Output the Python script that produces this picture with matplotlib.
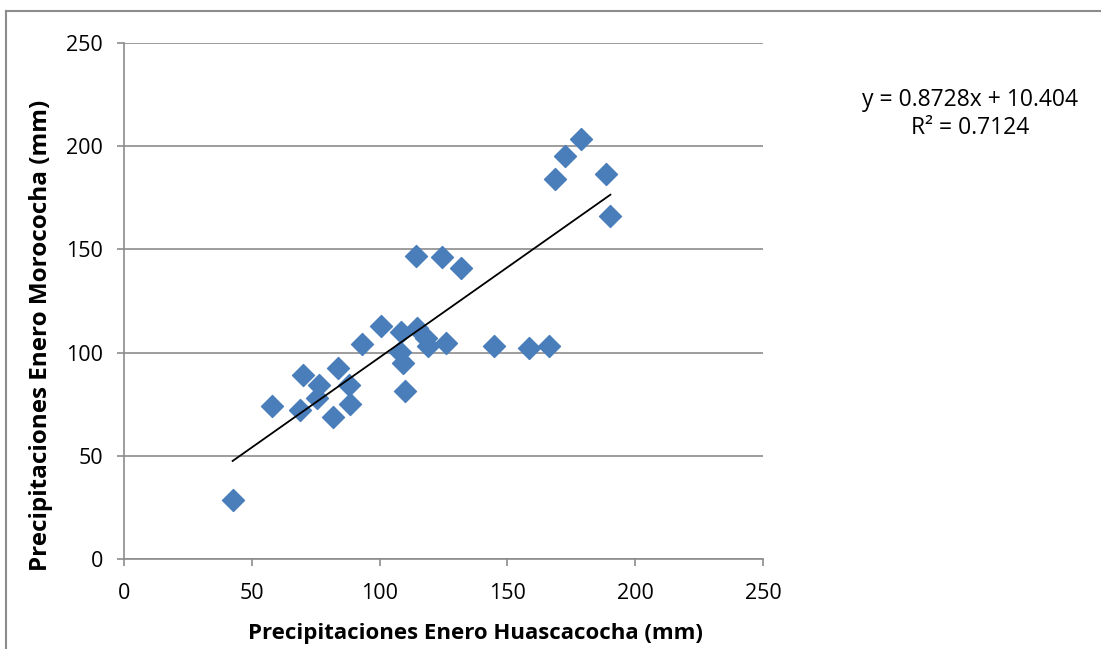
import matplotlib.pyplot as plt
import matplotlib.lines as mlines
import numpy as np

# Precipitaciones de enero (mm)
huascacocha = [42.5, 58.0, 68.9, 69.9, 75.6, 76.3, 81.9, 83.6, 88.0, 88.4,
               93.0, 100.5, 108.0, 108.4, 109.0, 109.9, 114.2, 114.8, 118.0, 118.8,
               124.3, 126.0, 131.8, 144.8, 158.5, 166.4, 168.6, 172.5, 178.9, 188.6,
               190.3]
morococha = [28.7, 73.9, 72.0, 89.0, 78.0, 84.1, 68.7, 92.6, 84.1, 75.2,
             104.4, 112.8, 100.3, 110.1, 95.0, 81.4, 146.9, 111.7, 106.9, 103.1,
             146.2, 104.7, 141.2, 103.3, 102.0, 103.3, 184.3, 195.2, 203.3, 186.3,
             166.3]

slope = 0.8728
intercept = 10.404
eq_text = 'y = 0.8728x + 10.404\nR² = 0.7124'

plt.rcParams['font.family'] = ['Open Sans', 'DejaVu Sans']

W, H = 1101, 649
fig = plt.figure(figsize=(W/100, H/100), dpi=100)
ax = fig.add_axes([124/W, 1-559/H, (763-124)/W, (559-43)/H])

ax.scatter(huascacocha, morococha, marker='D', s=125, color='#4a7ebb',
           edgecolors='#4a7ebb', zorder=3)

xs = np.array([min(huascacocha), max(huascacocha)])
ax.plot(xs, slope*xs + intercept, color='black', lw=1.3, zorder=4)

ax.set_xlim(0, 250)
ax.set_ylim(0, 250)
ax.set_xticks(range(0, 251, 50))
ax.set_yticks(range(0, 251, 50))
ax.grid(True, axis='y', color='#8c8c8c', lw=1.2)
ax.set_axisbelow(True)
for s in ['top', 'right']:
    ax.spines[s].set_visible(False)
for s in ['left', 'bottom']:
    ax.spines[s].set_color('#8c8c8c')
    ax.spines[s].set_linewidth(1.2)
ax.tick_params(axis='both', colors='#8c8c8c', labelcolor='black', labelsize=15.5,
               length=5, width=1.2)
ax.tick_params(axis='x', pad=12)
ax.tick_params(axis='y', pad=10)

fig.text(475/W, 1-634/H, 'Precipitaciones Enero Huascacocha (mm)', fontsize=16,
         fontweight='bold', ha='center', va='center')
fig.text(41/W, 1-335/H, 'Precipitaciones Enero Morococha (mm)', fontsize=17.5,
         fontweight='bold', ha='center', va='center', rotation=90)

fig.text(970/W, 1-114/H, eq_text, ha='center', va='center', fontsize=16.5,
         linespacing=1.25)

# outer chart border
fig.add_artist(mlines.Line2D([6/W, 1], [1-10.5/H, 1-10.5/H],
                             color='#8c8c8c', lw=1.5))
fig.add_artist(mlines.Line2D([6/W, 6/W], [0, 1-10.5/H],
                             color='#8c8c8c', lw=1.5))

fig.savefig('out.png', dpi=100)
